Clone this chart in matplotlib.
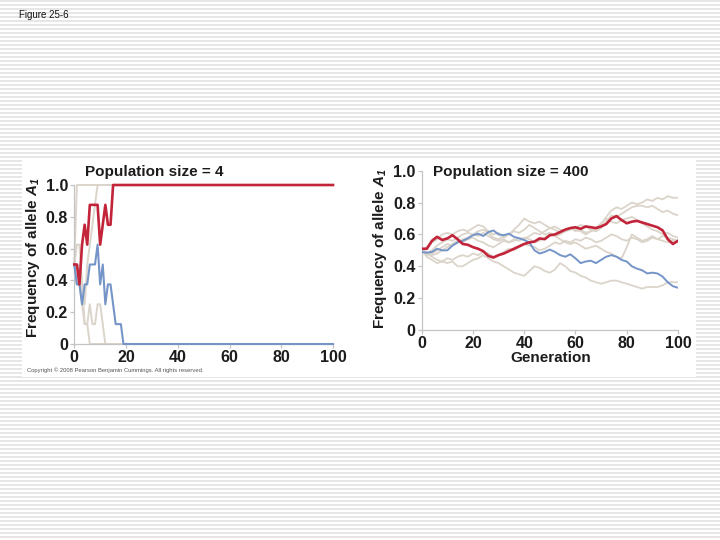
import matplotlib
matplotlib.use('Agg')
import matplotlib.pyplot as plt
import numpy as np
from matplotlib.patches import Rectangle

plt.rcParams['font.family'] = ['Liberation Sans', 'DejaVu Sans']
plt.rcParams['font.weight'] = 'bold'
plt.rcParams['axes.labelweight'] = 'bold'
plt.rcParams['mathtext.fontset'] = 'custom'
plt.rcParams['mathtext.it'] = 'Liberation Sans:bold:italic'
plt.rcParams['mathtext.rm'] = 'Liberation Sans:italic:bold'

# ---- population size = 4 : one value per generation until fixation/loss ----
red_4 = [0.5, 0.5, 0.375, 0.625, 0.75, 0.625, 0.875, 0.875, 0.875, 0.875,
         0.625, 0.75, 0.875, 0.75, 0.75, 1.0]
blue_4 = [0.5, 0.375, 0.375, 0.25, 0.375, 0.375, 0.5, 0.5, 0.5, 0.625,
          0.375, 0.5, 0.25, 0.375, 0.375, 0.25, 0.125, 0.125, 0.125, 0.0]
gray_4 = [
    [0.5, 1.0],
    [0.5, 0.625, 0.625, 0.375, 0.125, 0.125, 0.0],
    [0.5, 0.375, 0.5, 0.375, 0.25, 0.5, 0.625, 0.75, 0.875, 1.0],
    [0.5, 0.375, 0.375, 0.25, 0.125, 0.125, 0.25, 0.125, 0.125, 0.25,
     0.25, 0.125, 0.0],
]

# ---- population size = 400 : values every 2 generations ----
gen_400 = np.arange(0, 101, 2)
red_400 = [0.51, 0.51, 0.56, 0.585, 0.565, 0.575, 0.595, 0.57, 0.54, 0.535,
           0.52, 0.51, 0.495, 0.465, 0.455, 0.47, 0.48, 0.495, 0.51, 0.525,
           0.54, 0.55, 0.555, 0.575, 0.57, 0.595, 0.60, 0.615, 0.63, 0.64,
           0.645, 0.635, 0.65, 0.645, 0.64, 0.65, 0.665, 0.70, 0.715, 0.69,
           0.67, 0.68, 0.685, 0.675, 0.665, 0.655, 0.645, 0.625, 0.57, 0.54,
           0.56]
blue_400 = [0.49, 0.485, 0.49, 0.51, 0.50, 0.50, 0.53, 0.55, 0.56, 0.575,
            0.595, 0.605, 0.59, 0.615, 0.625, 0.60, 0.595, 0.605, 0.585, 0.575,
            0.565, 0.55, 0.50, 0.48, 0.49, 0.505, 0.49, 0.47, 0.46, 0.475,
            0.45, 0.42, 0.43, 0.435, 0.42, 0.44, 0.46, 0.47, 0.46, 0.44,
            0.43, 0.40, 0.385, 0.375, 0.355, 0.36, 0.355, 0.335, 0.30, 0.275,
            0.265]
gray_400 = [
    [0.50, 0.52, 0.55, 0.57, 0.60, 0.61, 0.60, 0.62, 0.63, 0.62,
     0.64, 0.66, 0.65, 0.62, 0.60, 0.61, 0.58, 0.60, 0.63, 0.66,
     0.70, 0.68, 0.67, 0.68, 0.66, 0.64, 0.65, 0.63, 0.62, 0.64,
     0.62, 0.63, 0.61, 0.62, 0.63, 0.66, 0.71, 0.75, 0.77, 0.76,
     0.78, 0.80, 0.79, 0.80, 0.82, 0.81, 0.83, 0.82, 0.84, 0.83,
     0.83],
    [0.50, 0.48, 0.50, 0.53, 0.55, 0.57, 0.56, 0.58, 0.60, 0.61,
     0.60, 0.62, 0.63, 0.61, 0.58, 0.57, 0.59, 0.60, 0.62, 0.61,
     0.63, 0.66, 0.64, 0.62, 0.60, 0.61, 0.59, 0.60, 0.62, 0.63,
     0.64, 0.66, 0.65, 0.63, 0.62, 0.64, 0.68, 0.72, 0.71, 0.73,
     0.75, 0.77, 0.78, 0.78, 0.77, 0.78, 0.76, 0.74, 0.75, 0.73,
     0.72],
    [0.50, 0.47, 0.48, 0.50, 0.52, 0.54, 0.53, 0.55, 0.57, 0.58,
     0.60, 0.59, 0.61, 0.59, 0.57, 0.56, 0.57, 0.55, 0.56, 0.58,
     0.57, 0.59, 0.61, 0.60, 0.62, 0.64, 0.63, 0.61, 0.62, 0.64,
     0.63, 0.62, 0.60, 0.62, 0.64, 0.67, 0.70, 0.68, 0.67, 0.69,
     0.70, 0.71, 0.69, 0.67, 0.65, 0.63, 0.62, 0.60, 0.61, 0.59,
     0.58],
    [0.50, 0.49, 0.47, 0.48, 0.50, 0.52, 0.54, 0.56, 0.55, 0.57,
     0.58, 0.56, 0.55, 0.53, 0.52, 0.54, 0.56, 0.55, 0.57, 0.56,
     0.58, 0.57, 0.55, 0.56, 0.58, 0.60, 0.59, 0.57, 0.55, 0.54,
     0.55, 0.53, 0.51, 0.52, 0.53, 0.51, 0.49, 0.48, 0.46, 0.45,
     0.52, 0.60, 0.58, 0.56, 0.57, 0.59, 0.57, 0.56, 0.55, 0.56,
     0.55],
    [0.50, 0.48, 0.46, 0.44, 0.43, 0.42, 0.43, 0.40, 0.40, 0.42,
     0.44, 0.45, 0.47, 0.45, 0.43, 0.42, 0.40, 0.38, 0.36, 0.35,
     0.34, 0.37, 0.40, 0.39, 0.37, 0.36, 0.38, 0.42, 0.40, 0.37,
     0.36, 0.34, 0.33, 0.31, 0.30, 0.29, 0.30, 0.31, 0.31, 0.30,
     0.29, 0.28, 0.27, 0.26, 0.27, 0.27, 0.27, 0.28, 0.30, 0.30,
     0.30],
    [0.50, 0.46, 0.44, 0.42, 0.43, 0.45, 0.44, 0.46, 0.47, 0.46,
     0.48, 0.47, 0.49, 0.48, 0.46, 0.47, 0.49, 0.51, 0.50, 0.52,
     0.54, 0.53, 0.52, 0.50, 0.51, 0.53, 0.55, 0.54, 0.56, 0.55,
     0.57, 0.56, 0.58, 0.57, 0.55, 0.56, 0.58, 0.60, 0.59, 0.57,
     0.56, 0.58, 0.57, 0.55, 0.56, 0.58, 0.57, 0.59, 0.58, 0.57,
     0.56],
]

x_ticks = [0, 20, 40, 60, 80, 100]
y_ticks = [0, 0.2, 0.4, 0.6, 0.8, 1.0]
y_labels = ['0', '0.2', '0.4', '0.6', '0.8', '1.0']

red = '#c2243a'
blue = '#7595c8'
gray = '#dbd4ca'
spine = '#c4c4c4'
ink = '#1c1c1c'

fig = plt.figure(figsize=(7.2, 5.4), dpi=100)

# striped slide background + white panel (drawn in pixel units)
bg = fig.add_axes([0, 0, 1, 1])
stripes = np.where(np.arange(540) % 4 < 2, 0.9, 1.0).reshape(-1, 1)
bg.imshow(stripes, cmap='gray', vmin=0, vmax=1, aspect='auto',
          interpolation='nearest', extent=(0, 720, 540, 0))
bg.add_patch(Rectangle((22, 160), 674, 217, facecolor='white', edgecolor='none'))
bg.set_xlim(0, 720)
bg.set_ylim(540, 0)
bg.set_axis_off()

fig.text(19 / 720, 1 - 15 / 540, 'Figure 25-6', fontsize=7, fontweight='normal',
         va='center', ha='left', color='#111111')
fig.text(27 / 720, 1 - 370 / 540,
         'Copyright \u00a9 2008 Pearson Benjamin Cummings. All rights reserved.',
         fontsize=4.2, fontweight='normal', va='center', ha='left', color='#555555')


def ends_at_100(vals):
    # once fixed or lost, the allele stays there until generation 100
    x = np.append(np.arange(len(vals)), 100)
    y = np.append(vals, vals[-1])
    return x, y


def style(ax):
    ax.set_xlim(0, 100)
    ax.set_ylim(0, 1)
    ax.set_xticks(x_ticks)
    ax.set_yticks(y_ticks)
    ax.set_yticklabels(y_labels)
    ax.patch.set_alpha(0)
    for s in ['top', 'right']:
        ax.spines[s].set_visible(False)
    for s in ['left', 'bottom']:
        ax.spines[s].set_color(spine)
        ax.spines[s].set_linewidth(0.9)
    ax.tick_params(length=3, width=0.9, color=spine, pad=1.5,
                   labelsize=11.5, labelcolor=ink)


# ---- left panel ----
ax1 = fig.add_axes([74.3 / 720, 1 - 344 / 540, 258.7 / 720, 159 / 540])
style(ax1)
for g in gray_4:
    x, y = ends_at_100(g)
    ax1.plot(x, y, color=gray, lw=1.4, clip_on=False, zorder=2)
x, y = ends_at_100(blue_4)
ax1.plot(x, y, color=blue, lw=1.5, clip_on=False, zorder=3)
x, y = ends_at_100(red_4)
ax1.plot(x, y, color=red, lw=1.9, clip_on=False, zorder=4)
ax1.text(0.041, 1.084, 'Population size = 4', transform=ax1.transAxes,
         fontsize=11, va='center', ha='left', color=ink)
ax1.set_ylabel('Frequency of allele $A_1$', fontsize=11, color=ink)
ax1.yaxis.set_label_coords(-0.16, 0.544)
ax1.yaxis.label.set_va('center')

# ---- right panel ----
ax2 = fig.add_axes([421.7 / 720, 1 - 330 / 540, 256.3 / 720, 159.3 / 540])
style(ax2)
for g in gray_400:
    ax2.plot(gen_400, g, color=gray, lw=1.3, zorder=2)
ax2.plot(gen_400, blue_400, color=blue, lw=1.4, zorder=3)
ax2.plot(gen_400, red_400, color=red, lw=1.9, zorder=4)
ax2.text(0.045, 0.994, 'Population size = 400', transform=ax2.transAxes,
         fontsize=11, va='center', ha='left', color=ink)
ax2.set_ylabel('Frequency of allele $A_1$', fontsize=11, color=ink)
ax2.yaxis.set_label_coords(-0.163, 0.51)
ax2.yaxis.label.set_va('center')
ax2.set_xlabel('Generation', fontsize=11, color=ink)
ax2.xaxis.set_label_coords(0.504, -0.178)
ax2.xaxis.label.set_va('center')

fig.savefig('out.png', dpi=100)
